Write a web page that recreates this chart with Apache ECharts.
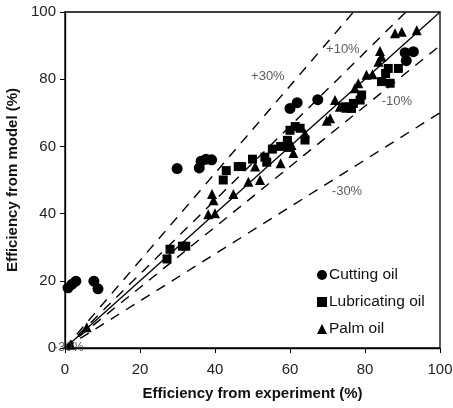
<!DOCTYPE html>
<html>
<head>
<meta charset="utf-8">
<script src="https://cdn.jsdelivr.net/npm/echarts@6/dist/echarts.min.js"></script>
<style>
  html, body { margin: 0; padding: 0; background: #fff; }
  #main { width: 453px; height: 408px; }
</style>
</head>
<body>
<div id="main"></div>
<script>
// 数据 (x = experiment, y = model)
var cuttingOil = [
    [0.8, 17.9], [1.9, 19.0], [2.9, 19.9], [7.7, 19.9], [8.8, 17.6],
    [29.9, 53.4], [35.8, 53.6], [36.3, 55.6], [37.6, 56.2], [39.1, 56.0],
    [60.0, 71.3], [61.9, 73.0], [67.4, 73.9],
    [90.7, 87.9], [92.9, 88.2], [91.0, 85.5]
];
var lubricatingOil = [
    [27.2, 26.5], [28.0, 29.4], [31.3, 30.3], [32.2, 30.3],
    [42.2, 50.0], [43.0, 52.8], [46.2, 54.0], [47.1, 54.0], [50.0, 56.2],
    [53.3, 56.8], [53.8, 55.3], [55.3, 59.2], [57.5, 60.0], [59.3, 61.8],
    [59.6, 59.7], [60.0, 64.8], [61.4, 65.9], [62.7, 65.4], [64.0, 61.9],
    [74.7, 71.8], [76.4, 71.3], [76.9, 72.8], [78.7, 73.8], [79.1, 75.3],
    [84.4, 79.3], [85.5, 81.7], [86.7, 78.8], [86.2, 83.2], [88.9, 83.2]
];
var palmOil = [
    [1.5, 1.0], [5.8, 6.2],
    [38.2, 39.8], [40.0, 40.1], [39.6, 44.0], [39.2, 45.8], [44.9, 45.8],
    [48.9, 49.5], [52.0, 50.0], [50.7, 54.0], [57.5, 55.0], [60.9, 58.0],
    [60.4, 60.4], [64.0, 63.9],
    [69.8, 67.6], [70.7, 68.4], [72.0, 73.8], [73.3, 71.8], [75.0, 71.5],
    [77.3, 77.3], [78.2, 78.8], [80.4, 81.3], [82.0, 81.5], [83.6, 85.2],
    [84.4, 86.7], [84.0, 88.4], [88.0, 93.7], [89.8, 94.1], [93.8, 94.6]
];
// 误差线 y = k * x
var lineX = [0, 100];
var bandRatios = [1.3, 1.1, 0.9, 0.7];
var bandLabels = [['+30%', 54.1, 80.7], ['+10%', 74.1, 89.0], ['-10%', 88.5, 73.5], ['-30%', 75.2, 46.7], ['-30%', 1.0, 0.2]];

var chart = echarts.init(document.getElementById('main'));

function ratioLine(k){
    var d = [];
    for (var i = 0; i < lineX.length; i++) d.push([lineX[i], lineX[i] * k]);
    return d;
}

var series = [];
// 1:1 线
series.push({
    type: 'line', data: ratioLine(1), symbol: 'none', silent: true, clip: true,
    lineStyle: { color: '#000', width: 1.3 }, z: 1
});
for (var i = 0; i < bandRatios.length; i++) {
    series.push({
        type: 'line', data: ratioLine(bandRatios[i]), symbol: 'none', silent: true, clip: true,
        lineStyle: { color: '#000', width: 1.4, type: [10, 8] }, z: 1
    });
}
series.push({
    type: 'scatter', silent: true, symbolSize: 0, z: 3,
    data: bandLabels.map(function(b){ return { value: [b[1], b[2]], name: b[0] }; }),
    label: {
        show: true, position: 'inside', formatter: '{b}',
        color: '#333', fontSize: 13, fontFamily: 'Liberation Sans'
    }
});
series.push({
    name: 'Cutting oil', type: 'scatter', symbol: 'circle', symbolSize: 11,
    itemStyle: { color: '#000', opacity: 1 }, data: cuttingOil, z: 2
});
series.push({
    name: 'Lubricating oil', type: 'scatter', symbol: 'rect', symbolSize: 9,
    itemStyle: { color: '#000', opacity: 1 }, data: lubricatingOil, z: 2
});
series.push({
    name: 'Palm oil', type: 'scatter', symbol: 'triangle', symbolSize: 10,
    itemStyle: { color: '#000', opacity: 1 }, data: palmOil, z: 2
});

var axisCommon = {
    type: 'value', min: 0, max: 100, interval: 20,
    axisLine: { show: true, onZero: false, lineStyle: { color: '#000', width: 1.3 } },
    axisTick: { show: true, inside: false, length: 5, lineStyle: { color: '#000' } },
    splitLine: { show: false },
    axisLabel: { color: '#222', fontSize: 15, fontFamily: 'Liberation Sans' },
    nameLocation: 'middle',
    nameTextStyle: { color: '#111', fontSize: 15, fontWeight: 'bold', fontFamily: 'Liberation Sans' }
};

var option = {
    animation: false,
    backgroundColor: '#fff',
    grid: {
        left: 65, right: 13, top: 12, bottom: 60, show: true, borderColor: '#000', borderWidth: 1.3,
        containLabel: false, outerBoundsMode: 'none'
    },
    legend: {
        orient: 'vertical', left: 312, top: 262, itemGap: 11,
        itemWidth: 10, itemHeight: 10,
        data: ['Cutting oil', 'Lubricating oil', 'Palm oil'],
        textStyle: { color: '#111', fontSize: 15.5, fontFamily: 'Liberation Sans', padding: [0, 0, 0, -3] }
    },
    xAxis: echarts.util.merge({
        name: 'Efficiency from experiment (%)', nameGap: 38,
        axisLabel: { margin: 14 }
    }, axisCommon),
    yAxis: echarts.util.merge({
        name: 'Efficiency from model (%)', nameGap: 42,
        axisLabel: { margin: 9 }
    }, axisCommon),
    series: series
};
chart.setOption(option);
</script>
</body>
</html>
